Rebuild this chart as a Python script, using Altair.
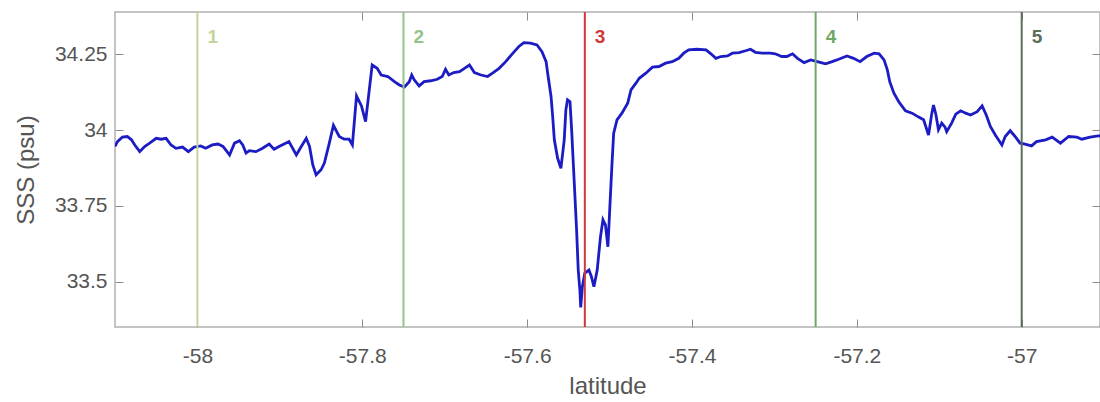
import altair as alt
import pandas as pd

# --- data ---
lat = [
    -58.100, -58.097, -58.091, -58.085, -58.080, -58.076, -58.070, -58.064, -58.058, -58.050,
    -58.044, -58.038, -58.032, -58.026, -58.018, -58.011, -58.004, -57.996, -57.990, -57.982,
    -57.975, -57.969, -57.961, -57.955, -57.949, -57.945, -57.941, -57.937, -57.929, -57.921,
    -57.913, -57.907, -57.901, -57.893, -57.889, -57.880, -57.874, -57.868, -57.864, -57.860,
    -57.856, -57.850, -57.846, -57.840, -57.835, -57.828, -57.822, -57.816, -57.812, -57.807,
    -57.801, -57.796, -57.788, -57.782, -57.777, -57.769, -57.761, -57.755, -57.749, -57.743,
    -57.740, -57.737, -57.731, -57.725, -57.717, -57.709, -57.703, -57.699, -57.695, -57.689,
    -57.682, -57.676, -57.670, -57.664, -57.656, -57.648, -57.642, -57.634, -57.626, -57.618,
    -57.610, -57.604, -57.596, -57.588, -57.582, -57.577, -57.575, -57.571, -57.569, -57.567,
    -57.563, -57.559, -57.555, -57.553, -57.551, -57.548, -57.546, -57.543, -57.540, -57.538,
    -57.536, -57.535, -57.533, -57.530, -57.525, -57.522, -57.519, -57.515, -57.511, -57.508,
    -57.505, -57.502, -57.500, -57.497, -57.495, -57.491, -57.485, -57.478, -57.474, -57.468,
    -57.464, -57.456, -57.448, -57.440, -57.432, -57.424, -57.416, -57.410, -57.404, -57.394,
    -57.383, -57.377, -57.371, -57.365, -57.357, -57.351, -57.343, -57.335, -57.329, -57.323,
    -57.315, -57.305, -57.299, -57.291, -57.285, -57.278, -57.272, -57.264, -57.256, -57.248,
    -57.238, -57.230, -57.222, -57.212, -57.204, -57.196, -57.188, -57.179, -57.173, -57.167,
    -57.163, -57.160, -57.155, -57.149, -57.141, -57.133, -57.125, -57.119, -57.113, -57.109,
    -57.107, -57.104, -57.101, -57.097, -57.093, -57.091, -57.085, -57.080, -57.074, -57.068,
    -57.062, -57.054, -57.048, -57.043, -57.038, -57.032, -57.024, -57.020, -57.014, -57.008,
    -57.002, -56.996, -56.988, -56.982, -56.971, -56.963, -56.953, -56.943, -56.933, -56.927,
    -56.917, -56.907, -56.900,
]
sss = [
    33.946, 33.962, 33.977, 33.979, 33.968, 33.951, 33.929, 33.946, 33.957, 33.973,
    33.970, 33.973, 33.951, 33.940, 33.944, 33.929, 33.944, 33.948, 33.940, 33.951,
    33.954, 33.946, 33.918, 33.957, 33.965, 33.951, 33.924, 33.932, 33.929, 33.940,
    33.954, 33.937, 33.946, 33.957, 33.962, 33.918, 33.946, 33.973, 33.946, 33.885,
    33.852, 33.869, 33.891, 33.957, 34.016, 33.979, 33.970, 33.970, 33.951, 34.113,
    34.080, 34.028, 34.215, 34.204, 34.182, 34.177, 34.160, 34.149, 34.142, 34.160,
    34.182, 34.166, 34.146, 34.160, 34.163, 34.168, 34.177, 34.201, 34.182, 34.190,
    34.193, 34.204, 34.215, 34.190, 34.182, 34.177, 34.188, 34.204, 34.226, 34.252,
    34.276, 34.289, 34.287, 34.281, 34.259, 34.226, 34.186, 34.111, 34.045, 33.968,
    33.907, 33.874, 33.968, 34.067, 34.100, 34.094, 34.001, 33.836, 33.671, 33.538,
    33.472, 33.415, 33.483, 33.528, 33.538, 33.516, 33.483, 33.538, 33.648, 33.704,
    33.687, 33.615, 33.726, 33.891, 33.990, 34.034, 34.056, 34.089, 34.133, 34.155,
    34.171, 34.188, 34.208, 34.210, 34.221, 34.226, 34.237, 34.254, 34.265, 34.267,
    34.265, 34.252, 34.237, 34.243, 34.245, 34.254, 34.256, 34.262, 34.267, 34.257,
    34.254, 34.254, 34.252, 34.243, 34.243, 34.252, 34.237, 34.223, 34.232, 34.226,
    34.219, 34.226, 34.234, 34.245, 34.237, 34.226, 34.243, 34.254, 34.252, 34.232,
    34.199, 34.159, 34.122, 34.093, 34.064, 34.056, 34.043, 34.034, 33.984, 34.056,
    34.083, 34.050, 34.001, 34.023, 34.010, 33.995, 34.023, 34.053, 34.064, 34.056,
    34.050, 34.061, 34.080, 34.050, 34.012, 33.984, 33.951, 33.979, 33.998, 33.979,
    33.957, 33.954, 33.948, 33.962, 33.968, 33.977, 33.957, 33.979, 33.977, 33.970,
    33.977, 33.981, 33.980,
]

marker_lat = [-58.0, -57.75, -57.53, -57.25, -57.0]
marker_label = ["1", "2", "3", "4", "5"]
label_level = 34.307

x_ticks = [-58.0, -57.8, -57.6, -57.4, -57.2, -57.0]
y_ticks = [33.5, 33.75, 34.0, 34.25]

# --- styles ---
marker_color = ["#c3d39c", "#93c48a", "#d0383a", "#6fa968", "#5b6d5b"]
marker_width = [2, 2, 3.5, 2.5, 3.5]
FONT = "Liberation Sans"
TXT = "#555555"

df = pd.DataFrame({"lat": lat, "sss": sss})
mk = pd.DataFrame({"lat": marker_lat, "label": marker_label})

xscale = alt.Scale(domain=[-58.1, -56.905], nice=False, zero=False)
yscale = alt.Scale(domain=[33.35, 34.39], nice=False, zero=False)

common = dict(offset=-8, tickSize=8, tickColor="#8c8c8c", tickWidth=1,
              domain=False, grid=False)
lab = dict(labelFont=FONT, labelFontSize=21, labelColor=TXT,
           titleFont=FONT, titleFontSize=24, titleColor=TXT,
           titleFontWeight="normal")

x_bottom = alt.Axis(orient="bottom", values=x_ticks, labelExpr="datum.value + ''",
                    title="latitude", labelPadding=18, titlePadding=8,
                    **common, **lab)
y_left = alt.Axis(orient="left", values=y_ticks, labelExpr="datum.value + ''",
                  title="SSS (psu)", labelPadding=8, titlePadding=16,
                  **common, **lab)
x_top = alt.Axis(orient="top", values=x_ticks, labels=False, title=None, **common)
y_right = alt.Axis(orient="right", values=y_ticks, labels=False, title=None, **common)

color_scale = alt.Scale(domain=marker_label, range=marker_color)

line = alt.Chart(df).mark_line(color="#1c1cc4", strokeWidth=2.8, clip=True).encode(
    x=alt.X("lat:Q", scale=xscale, axis=x_bottom),
    y=alt.Y("sss:Q", scale=yscale, axis=y_left),
)

frame = alt.Chart(df).mark_point(opacity=0).encode(
    x=alt.X("lat:Q", scale=xscale, axis=x_top),
    y=alt.Y("sss:Q", scale=yscale, axis=y_right),
)

rules = alt.Chart(mk).mark_rule().encode(
    x=alt.X("lat:Q", scale=xscale, axis=None),
    color=alt.Color("label:N", scale=color_scale, legend=None),
    strokeWidth=alt.StrokeWidth("label:N",
                                scale=alt.Scale(domain=marker_label, range=marker_width),
                                legend=None),
)

texts = alt.Chart(mk).mark_text(align="left", baseline="middle", dx=10,
                                font=FONT, fontSize=19, fontWeight="bold").encode(
    x=alt.X("lat:Q", scale=xscale, axis=None),
    y=alt.Y(datum=label_level, type="quantitative", scale=yscale, axis=None),
    text="label:N",
    color=alt.Color("label:N", scale=color_scale, legend=None),
)

chart = alt.layer(line, frame, rules, texts).resolve_axis(
    x="independent", y="independent"
).properties(
    width=985, height=315,
    autosize="none",
    padding={"left": 115, "top": 12, "right": 0, "bottom": 75},
    background="white",
).configure_view(stroke="#b0b0b0", strokeWidth=1.5)

chart.save("out.html", embed_options={"renderer": "svg", "actions": False})
